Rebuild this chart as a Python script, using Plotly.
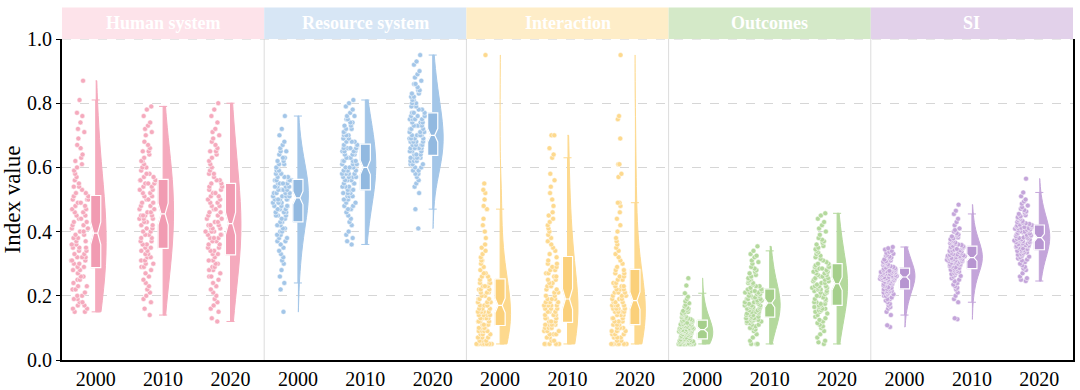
import numpy as np
import plotly.graph_objects as go

groups = ["Human system", "Resource system", "Interaction", "Outcomes", "SI"]
years = ["2000", "2010", "2020"]

violin_colors = ["#f5aabd", "#a3c6e8", "#fdd98e", "#b4d99d", "#c4a5da"]
box_colors = ["#f19bb2", "#92b9e0", "#fbd07a", "#a5cf8b", "#b795d1"]
header_colors = ["#fde3ea", "#d7e6f5", "#feedc8", "#d4e9c8", "#e2d1ea"]

hs_2000 = [0.15,0.15,0.16,0.16,0.17,0.17,0.18,0.18,0.19,0.19,0.20,0.20,0.21,0.22,0.22,0.23,0.23,0.24,0.25,0.25,0.26,0.26,0.27,0.28,0.28,
           0.29,0.29,0.30,0.30,0.31,0.31,0.31,0.32,0.32,0.32,0.33,0.33,0.34,0.34,0.35,0.35,0.35,0.36,0.36,0.37,0.37,0.38,0.38,0.39,0.39,
           0.40,0.40,0.41,0.41,0.42,0.42,0.43,0.43,0.44,0.44,0.45,0.45,0.46,0.46,0.47,0.47,0.48,0.48,0.49,0.49,0.50,0.50,0.50,0.51,0.51,
           0.52,0.52,0.53,0.54,0.54,0.55,0.56,0.57,0.58,0.59,0.60,0.61,0.62,0.63,0.64,0.66,0.67,0.69,0.71,0.72,0.74,0.76,0.77,0.81,0.87]
hs_2010 = [0.14,0.16,0.18,0.19,0.20,0.21,0.22,0.23,0.24,0.25,0.26,0.27,0.28,0.29,0.29,0.30,0.30,0.31,0.31,0.32,0.32,0.33,0.33,0.34,0.34,
           0.35,0.35,0.36,0.36,0.37,0.37,0.38,0.38,0.39,0.39,0.40,0.40,0.41,0.41,0.42,0.42,0.43,0.43,0.44,0.44,0.44,0.45,0.45,0.45,0.45,
           0.46,0.46,0.47,0.47,0.48,0.48,0.49,0.49,0.50,0.50,0.51,0.51,0.52,0.52,0.53,0.53,0.54,0.54,0.55,0.55,0.55,0.56,0.56,0.56,0.56,
           0.57,0.57,0.58,0.58,0.59,0.60,0.60,0.61,0.62,0.62,0.63,0.64,0.65,0.65,0.66,0.67,0.68,0.70,0.71,0.72,0.73,0.74,0.76,0.78,0.79]
hs_2020 = [0.12,0.13,0.15,0.16,0.17,0.18,0.19,0.20,0.21,0.22,0.23,0.24,0.25,0.26,0.26,0.27,0.28,0.28,0.29,0.29,0.30,0.30,0.31,0.31,0.32,
           0.33,0.33,0.34,0.34,0.35,0.35,0.36,0.36,0.37,0.37,0.38,0.38,0.38,0.39,0.39,0.39,0.40,0.40,0.40,0.41,0.41,0.41,0.42,0.42,0.42,
           0.43,0.43,0.44,0.44,0.45,0.45,0.46,0.46,0.47,0.47,0.48,0.48,0.49,0.49,0.50,0.50,0.51,0.51,0.52,0.52,0.53,0.53,0.54,0.54,0.55,
           0.55,0.56,0.56,0.57,0.58,0.58,0.59,0.60,0.61,0.62,0.63,0.64,0.65,0.65,0.66,0.67,0.68,0.69,0.70,0.71,0.72,0.74,0.76,0.78,0.80]

rs_2000 = [0.15,0.22,0.24,0.26,0.28,0.30,0.31,0.32,0.33,0.34,0.35,0.36,0.37,0.37,0.38,0.38,0.39,0.39,0.40,0.40,0.41,0.41,0.42,0.42,0.43,
           0.43,0.44,0.44,0.45,0.45,0.45,0.46,0.46,0.46,0.47,0.47,0.47,0.48,0.48,0.48,0.48,0.49,0.49,0.49,0.49,0.50,0.50,0.50,0.50,0.50,
           0.51,0.51,0.51,0.51,0.52,0.52,0.52,0.52,0.53,0.53,0.53,0.53,0.54,0.54,0.54,0.54,0.55,0.55,0.55,0.55,0.56,0.56,0.56,0.56,0.56,
           0.57,0.57,0.57,0.58,0.58,0.58,0.59,0.59,0.60,0.60,0.61,0.61,0.62,0.62,0.63,0.63,0.64,0.65,0.65,0.66,0.67,0.68,0.70,0.72,0.76]
rs_2010 = [0.36,0.37,0.38,0.39,0.40,0.42,0.43,0.44,0.45,0.46,0.47,0.47,0.48,0.48,0.49,0.49,0.50,0.50,0.51,0.51,0.51,0.52,0.52,0.52,0.53,
           0.53,0.53,0.54,0.54,0.54,0.55,0.55,0.55,0.56,0.56,0.56,0.57,0.57,0.57,0.57,0.58,0.58,0.58,0.58,0.59,0.59,0.59,0.59,0.60,0.60,
           0.60,0.61,0.61,0.61,0.62,0.62,0.62,0.62,0.63,0.63,0.63,0.64,0.64,0.64,0.65,0.65,0.65,0.65,0.66,0.66,0.66,0.66,0.67,0.67,0.67,
           0.68,0.68,0.68,0.69,0.69,0.70,0.70,0.70,0.71,0.71,0.72,0.72,0.73,0.73,0.74,0.74,0.75,0.75,0.76,0.76,0.77,0.78,0.79,0.80,0.81]
rs_2020 = [0.41,0.47,0.52,0.54,0.55,0.56,0.57,0.58,0.58,0.59,0.59,0.60,0.60,0.61,0.61,0.61,0.62,0.62,0.62,0.62,0.63,0.63,0.63,0.63,0.63,
           0.64,0.64,0.64,0.65,0.65,0.65,0.66,0.66,0.66,0.66,0.67,0.67,0.67,0.67,0.68,0.68,0.68,0.68,0.69,0.69,0.69,0.69,0.69,0.70,0.70,
           0.70,0.70,0.71,0.71,0.71,0.72,0.72,0.72,0.73,0.73,0.73,0.73,0.74,0.74,0.74,0.75,0.75,0.75,0.75,0.76,0.76,0.76,0.76,0.77,0.77,
           0.77,0.78,0.78,0.79,0.79,0.80,0.80,0.81,0.81,0.82,0.82,0.83,0.83,0.84,0.84,0.85,0.86,0.86,0.87,0.88,0.89,0.90,0.92,0.93,0.95]

in_2000 = [0.05,0.05,0.05,0.05,0.05,0.05,0.05,0.05,0.06,0.06,0.06,0.07,0.07,0.07,0.08,0.08,0.08,0.09,0.09,0.09,0.09,0.10,0.10,0.10,0.10,
           0.11,0.11,0.11,0.12,0.12,0.12,0.12,0.13,0.13,0.13,0.13,0.14,0.14,0.14,0.14,0.15,0.15,0.15,0.15,0.16,0.16,0.16,0.16,0.17,0.17,
           0.17,0.17,0.18,0.18,0.18,0.19,0.19,0.19,0.20,0.20,0.20,0.21,0.21,0.21,0.22,0.22,0.22,0.23,0.23,0.23,0.24,0.24,0.24,0.25,0.25,
           0.26,0.26,0.27,0.27,0.28,0.29,0.30,0.31,0.31,0.32,0.33,0.34,0.35,0.36,0.38,0.40,0.42,0.44,0.47,0.48,0.50,0.52,0.53,0.55,0.95]
in_2010 = [0.05,0.05,0.05,0.05,0.05,0.05,0.06,0.06,0.07,0.07,0.08,0.08,0.08,0.09,0.09,0.09,0.10,0.10,0.10,0.10,0.11,0.11,0.11,0.11,0.11,
           0.12,0.12,0.12,0.13,0.13,0.13,0.14,0.14,0.14,0.15,0.15,0.15,0.16,0.16,0.16,0.17,0.17,0.17,0.17,0.18,0.18,0.18,0.18,0.19,0.19,
           0.19,0.20,0.20,0.21,0.21,0.22,0.22,0.23,0.23,0.24,0.24,0.25,0.25,0.26,0.26,0.27,0.27,0.28,0.28,0.29,0.29,0.30,0.30,0.31,0.32,
           0.33,0.34,0.35,0.36,0.37,0.38,0.39,0.40,0.41,0.42,0.43,0.44,0.45,0.46,0.48,0.50,0.52,0.54,0.56,0.58,0.63,0.64,0.66,0.70,0.70]
in_2020 = [0.05,0.05,0.05,0.05,0.05,0.05,0.05,0.06,0.06,0.07,0.07,0.07,0.08,0.08,0.08,0.09,0.09,0.09,0.09,0.10,0.10,0.10,0.10,0.11,0.11,
           0.11,0.12,0.12,0.12,0.13,0.13,0.13,0.14,0.14,0.14,0.15,0.15,0.15,0.15,0.16,0.16,0.16,0.16,0.17,0.17,0.17,0.17,0.18,0.18,0.18,
           0.19,0.19,0.19,0.20,0.20,0.20,0.21,0.21,0.21,0.22,0.22,0.22,0.23,0.23,0.23,0.24,0.24,0.25,0.25,0.26,0.26,0.27,0.27,0.28,0.28,
           0.29,0.30,0.31,0.32,0.33,0.34,0.35,0.36,0.37,0.38,0.40,0.42,0.44,0.46,0.48,0.49,0.49,0.57,0.58,0.61,0.61,0.69,0.75,0.76,0.95]

ou_2000 = [0.050,0.050,0.050,0.050,0.050,0.050,0.050,0.050,0.050,0.050,0.052,0.054,0.055,0.056,0.057,0.058,0.059,0.060,0.060,0.061,0.062,0.062,0.063,0.064,0.065,
           0.066,0.068,0.070,0.071,0.072,0.074,0.075,0.076,0.078,0.079,0.080,0.082,0.083,0.084,0.085,0.086,0.087,0.088,0.089,0.090,0.090,0.091,0.092,0.093,0.094,
           0.095,0.096,0.097,0.098,0.099,0.100,0.101,0.102,0.103,0.104,0.105,0.106,0.108,0.109,0.110,0.111,0.112,0.113,0.115,0.116,0.118,0.119,0.120,0.122,0.124,
           0.125,0.127,0.129,0.131,0.133,0.135,0.138,0.140,0.142,0.145,0.148,0.150,0.153,0.156,0.160,0.163,0.167,0.172,0.177,0.183,0.190,0.197,0.208,0.232,0.255]
ou_2010 = [0.05,0.05,0.05,0.06,0.07,0.08,0.09,0.095,0.10,0.10,0.105,0.11,0.11,0.115,0.115,0.12,0.12,0.12,0.125,0.125,0.125,0.13,0.13,0.13,0.13,
           0.135,0.135,0.14,0.14,0.14,0.145,0.145,0.15,0.15,0.15,0.155,0.155,0.16,0.16,0.16,0.165,0.165,0.165,0.17,0.17,0.17,0.17,0.175,0.175,0.175,
           0.18,0.18,0.18,0.185,0.185,0.19,0.19,0.19,0.195,0.195,0.20,0.20,0.20,0.205,0.205,0.21,0.21,0.21,0.215,0.215,0.215,0.22,0.22,0.22,0.22,
           0.225,0.23,0.23,0.235,0.24,0.24,0.245,0.25,0.25,0.255,0.26,0.265,0.27,0.275,0.28,0.285,0.29,0.30,0.305,0.31,0.32,0.325,0.33,0.34,0.354]
ou_2020 = [0.05,0.055,0.06,0.07,0.08,0.09,0.10,0.105,0.11,0.115,0.12,0.125,0.13,0.135,0.14,0.145,0.15,0.15,0.155,0.155,0.16,0.16,0.165,0.165,0.17,
           0.17,0.175,0.175,0.18,0.18,0.185,0.19,0.19,0.195,0.20,0.20,0.205,0.21,0.21,0.215,0.215,0.22,0.22,0.225,0.225,0.225,0.23,0.23,0.23,0.235,
           0.24,0.24,0.245,0.245,0.25,0.25,0.255,0.255,0.26,0.26,0.265,0.265,0.27,0.27,0.275,0.275,0.28,0.28,0.285,0.285,0.29,0.29,0.29,0.295,0.30,
           0.30,0.305,0.31,0.315,0.32,0.325,0.33,0.335,0.34,0.345,0.35,0.355,0.36,0.365,0.37,0.375,0.38,0.39,0.40,0.41,0.42,0.43,0.44,0.45,0.457]

si_2000 = [0.103,0.108,0.14,0.15,0.16,0.165,0.17,0.175,0.18,0.185,0.19,0.19,0.195,0.20,0.20,0.205,0.205,0.21,0.21,0.21,0.215,0.215,0.215,0.22,0.22,
           0.222,0.225,0.227,0.23,0.232,0.235,0.237,0.24,0.24,0.242,0.244,0.245,0.247,0.248,0.25,0.25,0.25,0.252,0.253,0.254,0.255,0.255,0.256,0.257,0.258,
           0.259,0.26,0.261,0.262,0.263,0.264,0.265,0.266,0.267,0.268,0.269,0.27,0.271,0.272,0.273,0.274,0.275,0.276,0.277,0.278,0.279,0.28,0.282,0.284,0.286,
           0.288,0.29,0.292,0.294,0.296,0.298,0.30,0.302,0.304,0.306,0.308,0.31,0.313,0.316,0.319,0.322,0.325,0.328,0.331,0.334,0.337,0.34,0.344,0.348,0.352]
si_2010 = [0.127,0.13,0.18,0.19,0.20,0.21,0.22,0.225,0.23,0.235,0.24,0.245,0.25,0.255,0.26,0.262,0.265,0.268,0.27,0.272,0.275,0.277,0.279,0.281,0.283,
           0.285,0.287,0.289,0.291,0.293,0.295,0.297,0.299,0.30,0.302,0.303,0.305,0.306,0.307,0.308,0.309,0.31,0.311,0.312,0.313,0.314,0.315,0.316,0.317,0.318,
           0.32,0.321,0.322,0.323,0.324,0.325,0.326,0.327,0.328,0.329,0.33,0.332,0.334,0.336,0.338,0.34,0.341,0.342,0.344,0.346,0.348,0.35,0.351,0.352,0.354,
           0.356,0.358,0.36,0.362,0.364,0.366,0.368,0.37,0.373,0.376,0.379,0.382,0.385,0.388,0.391,0.395,0.40,0.405,0.41,0.42,0.43,0.44,0.455,0.465,0.484]
si_2020 = [0.246,0.25,0.255,0.26,0.27,0.28,0.285,0.29,0.295,0.30,0.305,0.31,0.313,0.316,0.32,0.322,0.325,0.328,0.33,0.332,0.335,0.337,0.339,0.34,0.342,
           0.344,0.346,0.348,0.35,0.352,0.354,0.355,0.357,0.358,0.36,0.361,0.363,0.364,0.366,0.367,0.368,0.37,0.371,0.372,0.374,0.375,0.376,0.377,0.379,0.38,
           0.382,0.384,0.386,0.388,0.39,0.392,0.394,0.396,0.398,0.40,0.401,0.403,0.404,0.406,0.407,0.409,0.41,0.411,0.412,0.414,0.415,0.416,0.417,0.419,0.42,
           0.422,0.424,0.426,0.428,0.43,0.433,0.436,0.439,0.442,0.445,0.448,0.451,0.455,0.459,0.463,0.467,0.471,0.476,0.481,0.487,0.494,0.50,0.51,0.522,0.565]

series = [
    [hs_2000, hs_2010, hs_2020],
    [rs_2000, rs_2010, rs_2020],
    [in_2000, in_2010, in_2020],
    [ou_2000, ou_2010, ou_2020],
    [si_2000, si_2010, si_2020],
]

SERIF = "Liberation Serif, Times New Roman, serif"

fig = go.Figure()
tickvals, ticktext = [], []
for g, grp in enumerate(series):
    vc, bc = violin_colors[g], box_colors[g]
    for j, vals in enumerate(grp):
        p = g * 3 + j
        tickvals.append(p)
        ticktext.append(years[j])
        arr = np.array(vals, dtype=float)
        n = len(arr)
        q1, med, q3 = np.percentile(arr, [25, 50, 75])
        iqr = q3 - q1
        bw = 1.8 * 0.9 * min(arr.std(ddof=1), iqr / 1.34) * n ** -0.2
        fig.add_trace(go.Violin(
            x=[p] * n, y=arr, side="positive", spanmode="hard", width=0.31,
            bandwidth=bw,
            scalemode="width", fillcolor=vc, line=dict(color=vc, width=1),
            points="all", pointpos=-1.5, jitter=0.9,
            marker=dict(size=5, color=vc, line=dict(color="white", width=0.5)),
            box_visible=False, meanline_visible=False, hoverinfo="skip",
            showlegend=False,
        ))
        lf = arr[arr >= q1 - 1.5 * iqr].min()
        uf = arr[arr <= q3 + 1.5 * iqr].max()
        ns = 1.57 * iqr / np.sqrt(n)
        fig.add_trace(go.Box(
            x=[p], q1=[q1], median=[med], q3=[q3], lowerfence=[lf], upperfence=[uf],
            notchspan=[ns], notched=True, notchwidth=0.3, width=0.15, whiskerwidth=0.8,
            fillcolor=bc, line=dict(color=vc, width=1), boxpoints=False,
            hoverinfo="skip", showlegend=False,
        ))
        fig.add_trace(go.Box(
            x=[p], q1=[q1], median=[med], q3=[q3], lowerfence=[q1], upperfence=[q3],
            notchspan=[ns], notched=True, notchwidth=0.3, width=0.15, whiskerwidth=0,
            fillcolor=bc, line=dict(color="white", width=1.2), boxpoints=False,
            hoverinfo="skip", showlegend=False,
        ))

shapes = []
annotations = []
for g, name in enumerate(groups):
    shapes.append(dict(type="rect", xref="x", yref="paper", x0=g * 3 - 0.5, x1=g * 3 + 2.5,
                       y0=1.0, y1=1.098, fillcolor=header_colors[g], line=dict(width=0), layer="below"))
    annotations.append(dict(x=g * 3 + 1, y=1.049, xref="x", yref="paper", text="<b>" + name + "</b>",
                            xanchor="center", yanchor="middle", showarrow=False,
                            font=dict(family=SERIF, size=18, color="white")))
    if g > 0:
        shapes.append(dict(type="line", xref="x", yref="paper", x0=g * 3 - 0.5, x1=g * 3 - 0.5,
                           y0=0, y1=1, line=dict(color="#dcdcdc", width=1), layer="below"))
shapes.append(dict(type="line", xref="paper", yref="y", x0=0, x1=1, y0=1.0, y1=1.0,
                   line=dict(color="#d0d0d0", width=1, dash="dash"), layer="below"))

fig.update_layout(
    width=1080, height=390,
    margin=dict(l=62, r=7, t=39, b=30, autoexpand=False),
    paper_bgcolor="white", plot_bgcolor="white",
    violinmode="overlay", boxmode="overlay",
    shapes=shapes, annotations=annotations,
    font=dict(family=SERIF, color="black"),
    xaxis=dict(range=[-0.5, 14.5], tickvals=tickvals, ticktext=ticktext, showgrid=False,
               zeroline=False, showline=True, linecolor="black", linewidth=2,
               tickfont=dict(family=SERIF, size=20), ticks="", automargin=False),
    yaxis=dict(range=[0, 1.0], dtick=0.2, tick0=0, tickformat=".1f", showgrid=True,
               gridcolor="#d6d6d6", griddash="dash", gridwidth=1, zeroline=False,
               showline=True, linecolor="black", linewidth=2, mirror=True,
               ticks="outside", ticklen=4, tickcolor="black", automargin=False,
               tickfont=dict(family=SERIF, size=20),
               title=dict(text="Index value", font=dict(family=SERIF, size=23), standoff=4)),
)

fig.write_html("out.html", config={"displayModeBar": False},
               post_script="document.body.style.margin='0';document.body.style.overflow='hidden';")
